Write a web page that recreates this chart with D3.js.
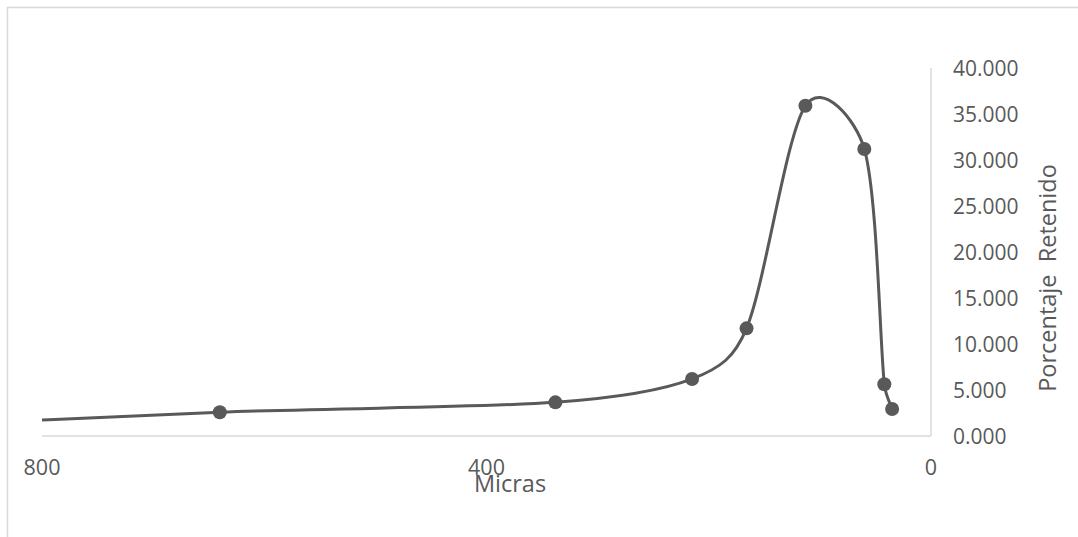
<!DOCTYPE html>
<html>
<head>
<meta charset="utf-8">
<script src="https://cdn.jsdelivr.net/npm/d3@7"></script>
<style>
  body { margin: 0; background: #fff; }
  text { font-family: "Open Sans", sans-serif; fill: #595959; }
</style>
</head>
<body>
<div id="chart"></div>
<script>
// data (micras vs porcentaje retenido)
const micras = [1000, 640, 338, 215, 166, 113, 60, 42, 35];
const retenido = [0.6, 2.58, 3.66, 6.2, 11.7, 35.9, 31.2, 5.62, 2.93];
const xTicks = [800, 400, 0];
const yTicks = [0, 5, 10, 15, 20, 25, 30, 35, 40];

const width = 1078, height = 537;
const plotLeft = 42, plotRight = 931, plotTop = 68, plotBottom = 436;
const grey = "#595959", axisGrey = "#d9d9d9";

const svg = d3.select("#chart").append("svg")
    .attr("width", width)
    .attr("height", height);

// chart frame (only top + left edges show in the crop)
svg.append("path")
    .attr("d", `M7.5,${height} V7.5 H${width}`)
    .attr("fill", "none")
    .attr("stroke", axisGrey)
    .attr("stroke-width", 1.5);

const x = d3.scaleLinear().domain([800, 0]).range([plotLeft, plotRight]);
const y = d3.scaleLinear().domain([0, 40]).range([plotBottom, plotTop]);

// axis lines
svg.append("line")
    .attr("x1", plotLeft).attr("x2", plotRight)
    .attr("y1", plotBottom).attr("y2", plotBottom)
    .attr("stroke", axisGrey).attr("stroke-width", 1.5);
svg.append("line")
    .attr("x1", plotRight).attr("x2", plotRight)
    .attr("y1", plotTop).attr("y2", plotBottom)
    .attr("stroke", axisGrey).attr("stroke-width", 1.5);

// x tick labels
svg.selectAll(".xlab")
    .data(xTicks)
    .enter().append("text")
    .attr("class", "xlab")
    .attr("x", d => x(d))
    .attr("y", 475)
    .attr("text-anchor", "middle")
    .style("font-size", "21.5px")
    .text(d => d);

// y tick labels
const fmt = d3.format(".3f");
svg.selectAll(".ylab")
    .data(yTicks)
    .enter().append("text")
    .attr("class", "ylab")
    .attr("x", 953)
    .attr("y", d => y(d))
    .attr("dominant-baseline", "central")
    .style("font-size", "21px")
    .text(d => fmt(d));

// axis titles
svg.append("text")
    .attr("x", 510)
    .attr("y", 492)
    .attr("text-anchor", "middle")
    .style("font-size", "23.5px")
    .text("Micras");

svg.append("text")
    .attr("transform", "translate(1047,278) rotate(-90)")
    .attr("text-anchor", "middle")
    .attr("dominant-baseline", "central")
    .style("font-size", "23.5px")
    .style("white-space", "pre")
    .text("Porcentaje  Retenido");

// clip to plot area
svg.append("clipPath").attr("id", "plot")
    .append("rect")
    .attr("x", plotLeft).attr("y", 0)
    .attr("width", plotRight - plotLeft).attr("height", plotBottom);

// smoothed line, spreadsheet style: catmull-rom tangents (1/6),
// with the handle kept short on short segments
function smoothPath(p) {
    const path = d3.path();
    const tan = p.map((d, i) => {
        const a = p[Math.max(i - 1, 0)], b = p[Math.min(i + 1, p.length - 1)];
        return [(b[0] - a[0]) / 6, (b[1] - a[1]) / 6];
    });
    const clamp = (t, len) => {
        const l = Math.hypot(t[0], t[1]), max = 0.42 * len;
        return l > max ? [t[0] * max / l, t[1] * max / l] : t;
    };
    path.moveTo(p[0][0], p[0][1]);
    for (let i = 0; i < p.length - 1; i++) {
        const len = Math.hypot(p[i + 1][0] - p[i][0], p[i + 1][1] - p[i][1]);
        const t0 = clamp(tan[i], len), t1 = clamp(tan[i + 1], len);
        path.bezierCurveTo(
            p[i][0] + t0[0], p[i][1] + t0[1],
            p[i + 1][0] - t1[0], p[i + 1][1] - t1[1],
            p[i + 1][0], p[i + 1][1]);
    }
    return path.toString();
}

const pts = micras.map((m, i) => ({ m, v: retenido[i] }));
const pix = pts.map(d => [x(d.m), y(d.v)]);

const g = svg.append("g").attr("clip-path", "url(#plot)");

g.append("path")
    .attr("d", smoothPath(pix))
    .attr("fill", "none")
    .attr("stroke", grey)
    .attr("stroke-width", 3);

g.selectAll("circle")
    .data(pts.filter(d => d.m <= 800))
    .enter().append("circle")
    .attr("cx", d => x(d.m))
    .attr("cy", d => y(d.v))
    .attr("r", 7)
    .attr("fill", grey);
</script>
</body>
</html>
